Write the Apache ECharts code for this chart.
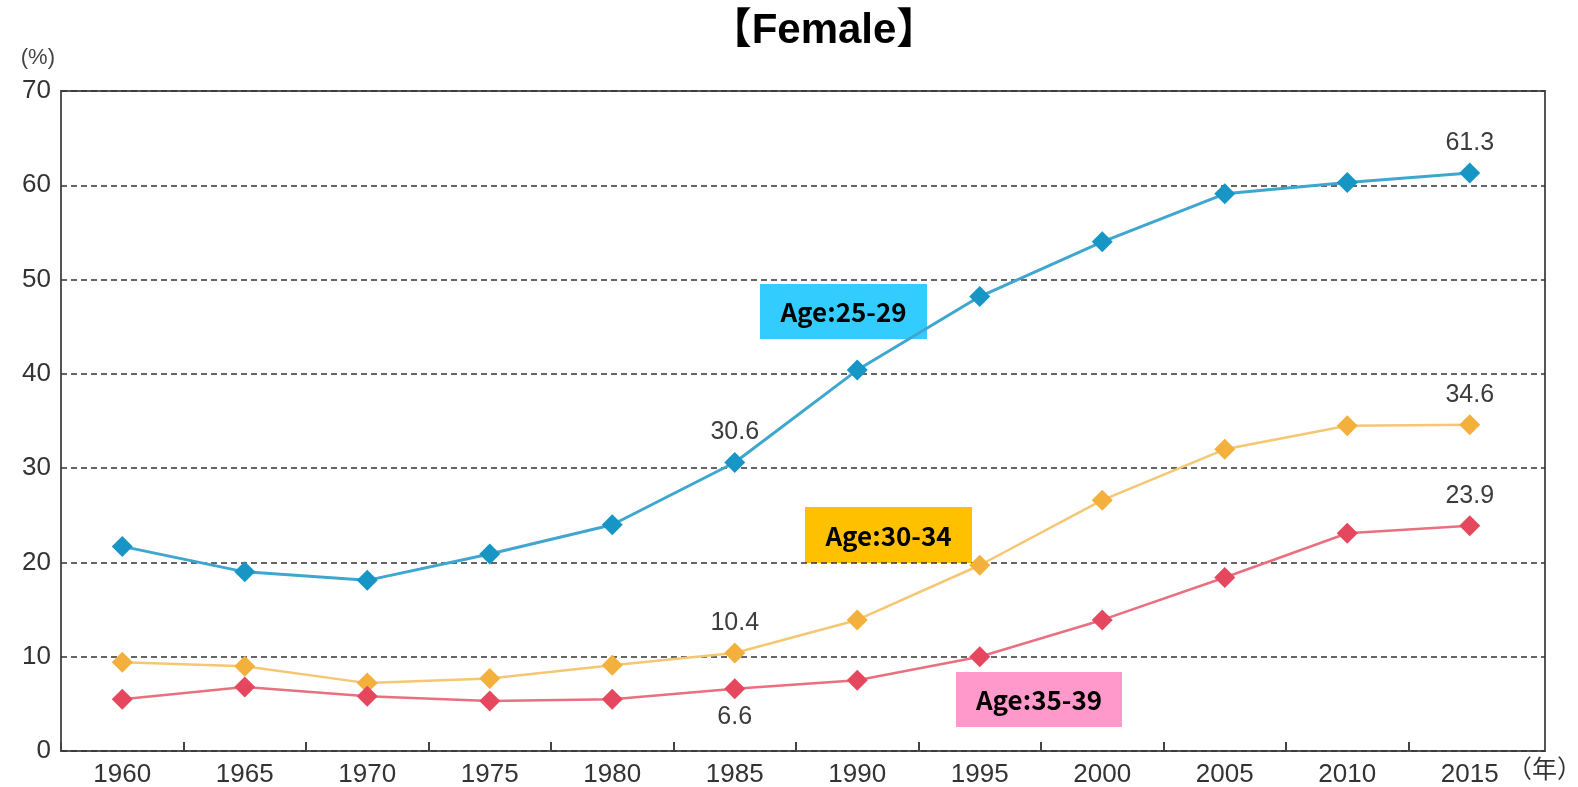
<!DOCTYPE html>
<html style="height: 100%">

<head>
  <meta charset="utf-8">
</head>

<body style="height: 100%; margin: 0; background: #fff">
  <div id="container" style="height: 100%"></div>
  <script type="text/javascript" src="https://cdn.jsdelivr.net/npm/echarts@6/dist/echarts.min.js"></script>
  <script type="text/javascript">
    var years = ['1960', '1965', '1970', '1975', '1980', '1985', '1990', '1995', '2000', '2005', '2010', '2015'];
    var age2529 = [21.7, 19.0, 18.1, 20.9, 24.0, 30.6, 40.4, 48.2, 54.0, 59.1, 60.3, 61.3];
    var age3034 = [9.4, 9.0, 7.2, 7.7, 9.1, 10.4, 13.9, 19.7, 26.6, 32.0, 34.5, 34.6];
    var age3539 = [5.5, 6.8, 5.8, 5.3, 5.5, 6.6, 7.5, 10.0, 13.9, 18.4, 23.1, 23.9];
    // which points carry a value label, and on which side
    var labels2529 = { 5: 'top', 11: 'top' };
    var labels3034 = { 5: 'top', 11: 'top' };
    var labels3539 = { 5: 'bottom', 11: 'top' };

    var dom = document.getElementById("container");
    var myChart = echarts.init(dom);

    var labelFont = 'Liberation Sans, Arial, sans-serif';

    function withLabels(values, marks) {
      return values.map(function (v, i) {
        if (!marks[i]) return v;
        return {
          value: v,
          label: {
            show: true,
            position: marks[i],
            distance: marks[i] === 'top' ? 7 : 5,
            color: '#3c3c3c',
            fontSize: 25,
            fontFamily: labelFont
          }
        };
      });
    }

    function tag(text, bg, x, y, w, h) {
      return {
        type: 'group',
        left: x,
        top: y,
        children: [{
          type: 'rect',
          shape: { x: 0, y: 0, width: w, height: h },
          style: { fill: bg }
        }, {
          type: 'text',
          x: w / 2,
          y: h / 2 + 1,
          style: {
            text: text,
            align: 'center',
            verticalAlign: 'middle',
            fill: '#000',
            font: 'bold 26px "Noto Sans CJK JP", sans-serif'
          }
        }]
      };
    }

    function series(name, values, marks, lineColor, dotColor, width) {
      return {
        name: name,
        type: 'line',
        xAxisIndex: 1,
        yAxisIndex: 1,
        data: withLabels(values, marks),
        symbol: 'diamond',
        symbolSize: 21,
        lineStyle: { color: lineColor, width: width },
        itemStyle: { color: dotColor },
        z: 5
      };
    }

    var option = {
      animation: false,
      title: {
        text: '【Female】',
        left: 819,
        top: 5,
        textAlign: 'center',
        textStyle: {
          fontSize: 42,
          fontWeight: 'bold',
          color: '#000',
          fontFamily: 'Liberation Sans, "Noto Sans CJK JP", sans-serif'
        }
      },
      grid: [{
        left: 61, right: 33, top: 91, bottom: 36,
        outerBoundsMode: 'none',
        containLabel: false,
        show: true,
        borderColor: '#555',
        borderWidth: 2
      }, {
        left: 61, right: 47, top: 91, bottom: 36,
        outerBoundsMode: 'none',
        containLabel: false
      }],
      xAxis: [{
        gridIndex: 0,
        type: 'value',
        show: false
      }, {
        gridIndex: 1,
        type: 'category',
        data: years,
        boundaryGap: true,
        axisLine: { show: false },
        axisTick: { show: true, inside: true, length: 9, lineStyle: { color: '#444', width: 2 } },
        axisLabel: { color: '#333', fontSize: 26, margin: 11, fontFamily: labelFont },
        name: '（年）',
        nameLocation: 'end',
        nameGap: -24,
        nameTextStyle: {
          color: '#333',
          fontSize: 25,
          fontFamily: '"Noto Sans CJK JP", sans-serif',
          verticalAlign: 'top',
          padding: [5, 0, 0, 0]
        }
      }],
      yAxis: [{
        gridIndex: 0,
        type: 'value',
        min: 0,
        max: 70,
        interval: 10,
        axisLine: { show: false },
        axisTick: { show: false },
        axisLabel: { color: '#333', fontSize: 26, margin: 10, fontFamily: labelFont },
        splitLine: { lineStyle: { color: '#333', type: [6, 4], width: 1.5 } },
        name: '(%)',
        nameLocation: 'end',
        nameGap: 22,
        nameTextStyle: {
          color: '#444',
          fontSize: 22,
          fontFamily: labelFont,
          align: 'right',
          verticalAlign: 'bottom',
          padding: [0, 6, 0, 0]
        }
      }, {
        gridIndex: 1,
        type: 'value',
        min: 0,
        max: 70,
        show: false
      }],
      series: [
        series('Age:25-29', age2529, labels2529, '#3fa7cf', '#1796c6', 3),
        series('Age:30-34', age3034, labels3034, '#f5c772', '#f3b03c', 2.5),
        series('Age:35-39', age3539, labels3539, '#e8707f', '#e5475f', 2.5)
      ],
      graphic: [
        // hide the closing tick at the end of the category band
        {
          type: 'rect',
          left: 1528,
          top: 740,
          shape: { width: 7, height: 10 },
          style: { fill: '#fff' },
          z: 10
        },
        tag('Age:25-29', '#33ccff', 760, 284, 167, 55),
        tag('Age:30-34', '#ffc000', 805, 507, 167, 56),
        tag('Age:35-39', '#ff99cc', 956, 672, 166, 55)
      ]
    };

    myChart.setOption(option);
  </script>
</body>

</html>
